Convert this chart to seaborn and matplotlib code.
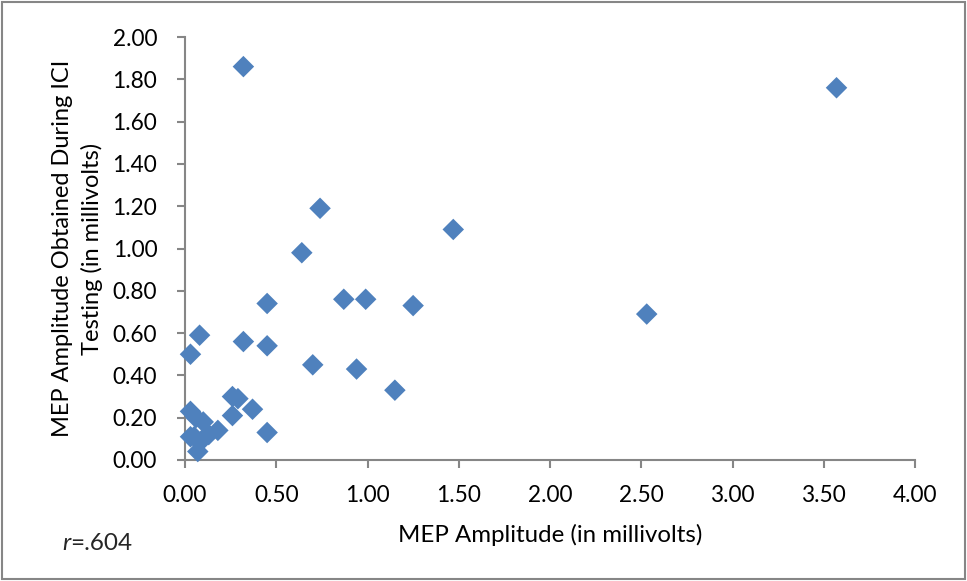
import matplotlib
matplotlib.use("Agg")
import matplotlib.pyplot as plt
import seaborn as sns
import pandas as pd
from matplotlib.patches import Rectangle

# MEP amplitude (mV) at rest vs during ICI testing
mep_amplitude = [0.32, 3.57, 0.74, 1.47, 0.64, 0.87, 0.99, 1.25, 0.45, 2.53,
                 0.08, 0.03, 0.32, 0.45, 0.70, 0.94, 1.15,
                 0.03, 0.06, 0.10, 0.26, 0.29, 0.26, 0.37, 0.45, 0.18,
                 0.03, 0.10, 0.13, 0.07, 0.05]
mep_ici = [1.86, 1.76, 1.19, 1.09, 0.98, 0.76, 0.76, 0.73, 0.74, 0.69,
           0.59, 0.50, 0.56, 0.54, 0.45, 0.43, 0.33,
           0.23, 0.20, 0.18, 0.30, 0.29, 0.21, 0.24, 0.13, 0.14,
           0.11, 0.10, 0.12, 0.04, 0.11]

x_ticks = [0.0, 0.5, 1.0, 1.5, 2.0, 2.5, 3.0, 3.5, 4.0]
y_ticks = [0.0, 0.2, 0.4, 0.6, 0.8, 1.0, 1.2, 1.4, 1.6, 1.8, 2.0]

x_label = "MEP Amplitude (in millivolts)"
y_label = "MEP Amplitude Obtained During ICI\nTesting (in millivolts)"
r_text = ".604"

df = pd.DataFrame({"x": mep_amplitude, "y": mep_ici})

sns.set_theme(style="white")
plt.rcParams["font.family"] = ["Lato", "DejaVu Sans"]

fig = plt.figure(figsize=(9.67, 5.81), dpi=100)
ax = fig.add_axes([185 / 967, 1 - 460 / 581, (915 - 185) / 967, (460 - 37) / 581])

sns.scatterplot(data=df, x="x", y="y", ax=ax, marker="D", s=120,
                color="#4F81BD", edgecolor="none", zorder=3, clip_on=False)

ax.set_xlim(0, 4.0)
ax.set_ylim(0, 2.0)
ax.set_xticks(x_ticks)
ax.set_yticks(y_ticks)
ax.set_xticklabels([f"{v:.2f}" for v in x_ticks])
ax.set_yticklabels([f"{v:.2f}" for v in y_ticks])

for side in ["top", "right"]:
    ax.spines[side].set_visible(False)
for side in ["left", "bottom"]:
    ax.spines[side].set_color("#868686")
    ax.spines[side].set_linewidth(1.5)

ax.tick_params(axis="both", which="major", direction="out", length=6, width=1.5,
               color="#868686", labelsize=16.3, labelcolor="black")
ax.tick_params(axis="x", bottom=True, pad=12)
ax.tick_params(axis="y", left=True, pad=14)

ax.set_xlabel(x_label, fontsize=17.3, color="black")
ax.xaxis.set_label_coords(0.5, -0.151)
ax.set_ylabel(y_label, fontsize=17, color="black", linespacing=1.45)
ax.yaxis.set_label_coords(-0.112, 0.5)

fig.text(62 / 967, 1 - 544 / 581, "r", fontsize=17.5, style="italic", va="center", ha="left")
fig.text(70 / 967, 1 - 544 / 581, "=" + r_text, fontsize=17.5, va="center", ha="left")

fig.patches.append(Rectangle((0.002, 0.003), 0.996, 0.994, transform=fig.transFigure,
                             fill=False, edgecolor="#868686", linewidth=1.5))

fig.savefig("out.png", dpi=100)
